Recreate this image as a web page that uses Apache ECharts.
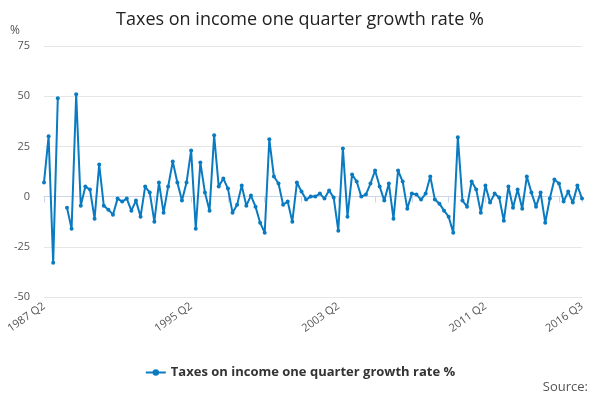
<!DOCTYPE html>
<html>
<head>
<meta charset="utf-8">
<script src="https://cdn.jsdelivr.net/npm/echarts@6/dist/echarts.min.js"></script>
<style>html,body{margin:0;padding:0;background:#fff}#chart{width:600px;height:400px}</style>
</head>
<body>
<div id="chart"></div>
<script>
var startYear = 1987, startQuarter = 2, endYear = 2016, endQuarter = 3;
var shownLabels = ['1987 Q2', '1995 Q2', '2003 Q2', '2011 Q2', '2016 Q3'];
var growth = [
    7, 30, -33, 49, null, -5.5, -16, 51, -4.5, 5,
    3.5, -11, 16, -4.5, -6.5, -9, -1, -2.5, -1, -7,
    -2, -10, 5, 2, -12.5, 7, -8, 5, 17.5, 7,
    -2, 7, 23, -16, 17, 2, -7, 30.5, 5, 9,
    4, -8, -4, 5.5, -4.5, 0.5, -5, -13, -18, 28.5,
    10, 6.5, -4, -2.5, -12.5, 7, 2.5, -1.5, 0, 0,
    1.5, -1, 3, -0.5, -17, 24, -10, 11, 7.5, 0,
    1, 6.5, 13, 5, -2, 6.5, -11, 13, 7.5, -6,
    1.5, 1, -1.5, 1.5, 10, -1.5, -3.5, -7, -10, -18,
    29.5, -2, -5, 7.5, 3.5, -8, 5.5, -3, 1.5, -0.5,
    -12, 5, -5.5, 3.5, -6, 10, 2, -5, 2, -13,
    -1, 8.5, 6.5, -2.5, 2.5, -3, 5.5, -1
];

var quarters = [];
for (var y = startYear; y <= endYear; y++) {
    for (var q = 1; q <= 4; q++) {
        if (y === startYear && q < startQuarter) continue;
        if (y === endYear && q > endQuarter) continue;
        quarters.push(y + ' Q' + q);
    }
}

var myChart = echarts.init(document.getElementById('chart'));
var option = {
    title: {
        text: 'Taxes on income one quarter growth rate %',
        left: 'center', top: 6,
        textStyle: { fontFamily: 'Open Sans', fontSize: 18, fontWeight: 'normal', color: '#222' }
    },
    graphic: [
        { type: 'text', left: 10, top: 25, style: { text: '%', fontFamily: 'Open Sans', fontSize: 12, fill: '#555' } },
        { type: 'text', right: 12, top: 381, style: { text: 'Source:', fontFamily: 'Open Sans', fontSize: 13, fill: '#555' } }
    ],
    legend: {
        bottom: 16, left: 'center',
        itemWidth: 20, itemHeight: 8,
        textStyle: { fontFamily: 'Open Sans', fontSize: 13, fontWeight: 'bold', color: '#333' }
    },
    grid: { left: 44, right: 18, top: 46, bottom: 103 },
    xAxis: {
        type: 'category',
        data: quarters,
        boundaryGap: false,
        axisLine: { lineStyle: { color: '#ccd6eb' } },
        axisTick: { interval: 7, length: 6, lineStyle: { color: '#ccd6eb' } },
        axisLabel: {
            interval: 0, rotate: 35, color: '#555', fontFamily: 'Open Sans', fontSize: 11, margin: 8,
            formatter: function (v) { return shownLabels.indexOf(v) >= 0 ? v : ''; }
        }
    },
    yAxis: {
        type: 'value', min: -50, max: 75, interval: 25,
        axisLabel: { color: '#555', fontFamily: 'Open Sans', fontSize: 11, margin: 14 },
        splitLine: { lineStyle: { color: '#e6e6e6' } }
    },
    series: [{
        name: 'Taxes on income one quarter growth rate %',
        type: 'line',
        data: growth,
        connectNulls: false,
        symbol: 'circle', symbolSize: 4,
        lineStyle: { width: 2, color: '#0a7bc0' },
        itemStyle: { color: '#0a7bc0' }
    }]
};
option && myChart.setOption(option);
</script>
</body>
</html>
